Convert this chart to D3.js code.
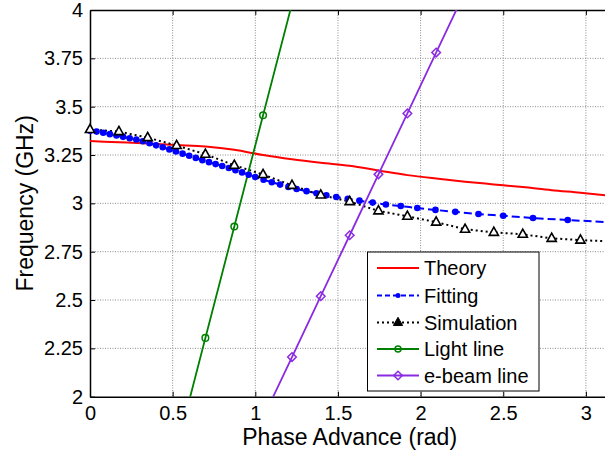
<!DOCTYPE html>
<html>
<head>
<meta charset="utf-8">
<script src="https://cdn.jsdelivr.net/npm/d3@7"></script>
<style>
  html, body { margin: 0; padding: 0; background: #fff; }
  svg { display: block; font-family: "Liberation Sans", Arial, sans-serif; }
</style>
</head>
<body>
<svg id="chart" width="605" height="450"></svg>
<script>
// Phase advance sample points (rad), steps of pi/18
const phaseSteps = [0, 0.175, 0.349, 0.524, 0.698, 0.873, 1.047, 1.222, 1.396, 1.571,
                    1.745, 1.920, 2.094, 2.269, 2.443, 2.618, 2.793, 2.967, 3.142];

// Theory dispersion (GHz)
const theoryFreq = [3.322, 3.316, 3.310, 3.302, 3.294, 3.277, 3.250, 3.228, 3.210, 3.194,
                    3.170, 3.146, 3.128, 3.112, 3.098, 3.084, 3.068, 3.055, 3.040];

// Fitted dispersion curve
const fittingPhase = [0, 0.04, 0.08, 0.12, 0.16, 0.20, 0.24, 0.28, 0.32, 0.36, 0.40, 0.44,
                      0.48, 0.52, 0.56, 0.60, 0.64, 0.68, 0.72, 0.76, 0.80, 0.84, 0.88, 0.92,
                      0.96, 1.00, 1.05, 1.10, 1.15, 1.20, 1.25, 1.31, 1.37, 1.43, 1.49, 1.56,
                      1.63, 1.71, 1.79, 1.88, 1.98, 2.09, 2.21, 2.35, 2.50, 2.68, 2.89, 3.14];
const fittingFreq = [3.376, 3.371, 3.365, 3.358, 3.351, 3.344, 3.337, 3.330, 3.321, 3.311,
                     3.300, 3.290, 3.279, 3.268, 3.257, 3.246, 3.235, 3.223, 3.213, 3.203,
                     3.193, 3.183, 3.171, 3.160, 3.148, 3.136, 3.122, 3.109, 3.097, 3.085,
                     3.074, 3.063, 3.052, 3.042, 3.033, 3.024, 3.014, 3.004, 2.994, 2.986,
                     2.976, 2.966, 2.956, 2.945, 2.936, 2.924, 2.914, 2.902];

// Simulated eigenmodes (GHz) at the phaseSteps points
const simulationFreq = [3.382, 3.371, 3.340, 3.299, 3.254, 3.197, 3.149, 3.093, 3.043, 3.009,
                        2.961, 2.933, 2.903, 2.866, 2.850, 2.840, 2.819, 2.810, 2.803];

// Light line and e-beam line (GHz) at the phaseSteps points
const lightFreq = [0, 0.576, 1.152, 1.728, 2.304, 2.880, 3.456, 4.032, 4.608, 5.184,
                   5.760, 6.336, 6.912, 7.488, 8.064, 8.640, 9.216, 9.792, 10.368];
const beamFreq = [0, 0.315, 0.630, 0.945, 1.260, 1.575, 1.890, 2.205, 2.520, 2.835,
                  3.150, 3.465, 3.780, 4.095, 4.410, 4.725, 5.040, 5.355, 5.670];

const xTicks = [0, 0.5, 1, 1.5, 2, 2.5, 3];
const xTickLabels = ["0", "0.5", "1", "1.5", "2", "2.5", "3"];
const yTicks = [2, 2.25, 2.5, 2.75, 3, 3.25, 3.5, 3.75, 4];
const yTickLabels = ["2", "2.25", "2.5", "2.75", "3", "3.25", "3.5", "3.75", "4"];
const legendNames = ["Theory", "Fitting", "Simulation", "Light line", "e-beam line"];

const svg = d3.select("#chart");
const pLeft = 90, pTop = 10, pBottom = 396.7;
const pRight = pLeft + Math.PI * 165.3;

const x = d3.scaleLinear().domain([0, Math.PI]).range([pLeft, pRight]);
const y = d3.scaleLinear().domain([2, 4]).range([pBottom, pTop]);

svg.append("defs").append("clipPath").attr("id", "plotClip")
  .append("rect").attr("x", pLeft).attr("y", pTop)
  .attr("width", pRight - pLeft).attr("height", pBottom - pTop);

// Grid
const grid = svg.append("g");
grid.selectAll("line.gx").data(xTicks.slice(1)).join("line")
  .attr("x1", d => x(d)).attr("x2", d => x(d)).attr("y1", pTop).attr("y2", pBottom)
  .attr("stroke", "#8c8c8c").attr("stroke-width", 1).attr("stroke-dasharray", "1,1.5");
grid.selectAll("line.gy").data(yTicks.slice(1, -1)).join("line")
  .attr("x1", pLeft).attr("x2", pRight).attr("y1", d => y(d)).attr("y2", d => y(d))
  .attr("stroke", "#8c8c8c").attr("stroke-width", 1).attr("stroke-dasharray", "1,1.5");

// Axes (ticks pointing inward)
const xAxisB = d3.axisBottom(x).tickValues(xTicks).tickFormat((d, i) => xTickLabels[i])
  .tickSizeInner(-5).tickSizeOuter(0).tickPadding(9);
const xAxisT = d3.axisTop(x).tickValues(xTicks).tickFormat("").tickSizeInner(-5).tickSizeOuter(0);
const yAxisL = d3.axisLeft(y).tickValues(yTicks).tickFormat((d, i) => yTickLabels[i])
  .tickSizeInner(-5).tickSizeOuter(0).tickPadding(7);

const gB = svg.append("g").attr("transform", `translate(0,${pBottom})`).call(xAxisB);
const gT = svg.append("g").attr("transform", `translate(0,${pTop})`).call(xAxisT);
const gL = svg.append("g").attr("transform", `translate(${pLeft},0)`).call(yAxisL);
[gB, gT, gL].forEach(g => {
  g.select(".domain").attr("stroke", "#000").attr("stroke-width", 1.5);
  g.selectAll(".tick line").attr("stroke", "#000").attr("stroke-width", 1);
  g.selectAll("text").attr("fill", "#000").attr("font-size", 20)
    .attr("font-family", "Liberation Sans, Arial, sans-serif");
});
gB.selectAll("text").attr("dy", "0.71em");

// Axis titles
svg.append("text").attr("x", (pLeft + pRight) / 2).attr("y", 445)
  .attr("text-anchor", "middle").attr("font-size", 23).text("Phase Advance (rad)");
svg.append("text").attr("transform", `translate(33,${(pTop + pBottom) / 2}) rotate(-90)`)
  .attr("text-anchor", "middle").attr("font-size", 23).text("Frequency (GHz)");

// Marker shapes
const tri = "M0,-5.2L4.6,3L-4.6,3Z";
const dia = "M0,-4.3L4.3,0L0,4.3L-4.3,0Z";

// Lines are clipped to the axes box; markers are kept whole when their point is inside it
const plot = svg.append("g").attr("clip-path", "url(#plotClip)");
const marks = svg.append("g");
const inBox = d => d[0] >= 0 && d[0] <= Math.PI && d[1] >= 2 && d[1] <= 4;
const lineGen = d3.line().x(d => x(d[0])).y(d => y(d[1]));
const smooth = d3.line().x(d => x(d[0])).y(d => y(d[1])).curve(d3.curveMonotoneX);

const theoryPts = d3.zip(phaseSteps, theoryFreq);
const fittingPts = d3.zip(fittingPhase, fittingFreq);
const simPts = d3.zip(phaseSteps, simulationFreq);
const lightPts = d3.zip(phaseSteps, lightFreq);
const beamPts = d3.zip(phaseSteps, beamFreq);

// Theory
plot.append("path").datum(theoryPts).attr("d", smooth)
  .attr("fill", "none").attr("stroke", "#ff0000").attr("stroke-width", 2);

// Fitting
plot.append("path").datum(fittingPts).attr("d", smooth)
  .attr("fill", "none").attr("stroke", "#0000ff").attr("stroke-width", 2)
  .attr("stroke-dasharray", "8,4");
marks.append("g").selectAll("circle").data(fittingPts.filter(inBox)).join("circle")
  .attr("cx", d => x(d[0])).attr("cy", d => y(d[1])).attr("r", 3.3).attr("fill", "#0000ff");

// Simulation
plot.append("path").datum(simPts).attr("d", lineGen)
  .attr("fill", "none").attr("stroke", "#000").attr("stroke-width", 2)
  .attr("stroke-dasharray", "2,3");
marks.append("g").selectAll("path").data(simPts.filter(inBox)).join("path")
  .attr("transform", d => `translate(${x(d[0])},${y(d[1])})`).attr("d", tri)
  .attr("fill", "#fff").attr("stroke", "#000").attr("stroke-width", 1.6);

// Light line
plot.append("path").datum(lightPts).attr("d", lineGen)
  .attr("fill", "none").attr("stroke", "#008000").attr("stroke-width", 1.8);
marks.append("g").selectAll("circle").data(lightPts.filter(inBox)).join("circle")
  .attr("cx", d => x(d[0])).attr("cy", d => y(d[1])).attr("r", 3.3)
  .attr("fill", "none").attr("stroke", "#008000").attr("stroke-width", 1.5);

// e-beam line
plot.append("path").datum(beamPts).attr("d", lineGen)
  .attr("fill", "none").attr("stroke", "#8a2be2").attr("stroke-width", 1.8);
marks.append("g").selectAll("path").data(beamPts.filter(inBox)).join("path")
  .attr("transform", d => `translate(${x(d[0])},${y(d[1])})`).attr("d", dia)
  .attr("fill", "none").attr("stroke", "#8a2be2").attr("stroke-width", 1.5);

// Legend
const lg = svg.append("g");
lg.append("rect").attr("x", 367.5).attr("y", 252).attr("width", 171.5).attr("height", 139)
  .attr("fill", "#fff").attr("stroke", "#000").attr("stroke-width", 1);
const rowY = [268, 295.5, 322.5, 349, 375.5];
const styles = [
  { c: "#ff0000", dash: null, m: null },
  { c: "#0000ff", dash: "5,3", m: "dot" },
  { c: "#000", dash: "2,3", m: "tri" },
  { c: "#008000", dash: null, m: "circle" },
  { c: "#8a2be2", dash: null, m: "dia" }
];
legendNames.forEach((name, i) => {
  const s = styles[i], cy = rowY[i], cx = 398;
  lg.append("line").attr("x1", 377).attr("x2", 419).attr("y1", cy).attr("y2", cy)
    .attr("stroke", s.c).attr("stroke-width", 2).attr("stroke-dasharray", s.dash);
  if (s.m === "dot") lg.append("circle").attr("cx", cx).attr("cy", cy).attr("r", 2.5).attr("fill", s.c);
  if (s.m === "tri") lg.append("path").attr("transform", `translate(${cx},${cy})`).attr("d", tri)
    .attr("fill", "#000").attr("stroke", "#000").attr("stroke-width", 1);
  if (s.m === "circle") lg.append("circle").attr("cx", cx).attr("cy", cy).attr("r", 3)
    .attr("fill", "none").attr("stroke", s.c).attr("stroke-width", 1.5);
  if (s.m === "dia") lg.append("path").attr("transform", `translate(${cx},${cy})`).attr("d", dia)
    .attr("fill", "none").attr("stroke", s.c).attr("stroke-width", 1.5);
  lg.append("text").attr("x", 424).attr("y", cy + 7).attr("font-size", 20).attr("fill", "#000").text(name);
});
</script>
</body>
</html>
